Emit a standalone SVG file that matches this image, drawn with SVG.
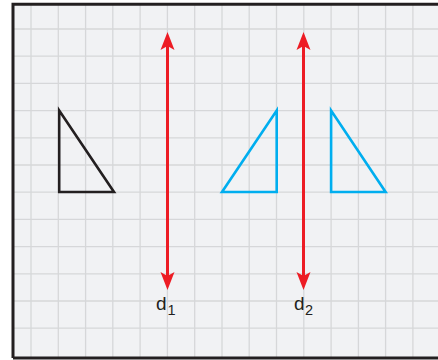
<svg xmlns="http://www.w3.org/2000/svg" width="438" height="360" viewBox="0 0 438 360">
<defs>
<style>
.grid line{stroke:#d6d7d9;stroke-width:1.3}
.axis{stroke:#ed1c24;stroke-width:3;fill:none}
.head{fill:#ed1c24}
.tri-black{fill:none;stroke:#231f20;stroke-width:2.6;stroke-linejoin:miter}
.tri-blue{fill:none;stroke:#00aeef;stroke-width:2.6;stroke-linejoin:miter}
.lbl{font-family:"Liberation Sans",Arial,sans-serif;font-size:19px;fill:#231f20}
.sub{font-size:14.5px}
</style>
<path id="ah" d="M0,0 L7,18 L0,14 L-7,18 Z"/>
</defs>
<rect x="0" y="0" width="438" height="360" fill="#ffffff"/>
<rect x="13" y="4.3" width="440" height="353.7" fill="#f1f2f4"/>
<g class="grid" id="grid">
<line x1="31" y1="5" x2="31" y2="357"/>
<line x1="58.3" y1="5" x2="58.3" y2="357"/>
<line x1="85.6" y1="5" x2="85.6" y2="357"/>
<line x1="112.8" y1="5" x2="112.8" y2="357"/>
<line x1="140.1" y1="5" x2="140.1" y2="357"/>
<line x1="167.4" y1="5" x2="167.4" y2="357"/>
<line x1="194.7" y1="5" x2="194.7" y2="357"/>
<line x1="222" y1="5" x2="222" y2="357"/>
<line x1="249.2" y1="5" x2="249.2" y2="357"/>
<line x1="276.5" y1="5" x2="276.5" y2="357"/>
<line x1="303.8" y1="5" x2="303.8" y2="357"/>
<line x1="331.1" y1="5" x2="331.1" y2="357"/>
<line x1="358.4" y1="5" x2="358.4" y2="357"/>
<line x1="385.6" y1="5" x2="385.6" y2="357"/>
<line x1="412.9" y1="5" x2="412.9" y2="357"/>
<line x1="13" y1="29" x2="438" y2="29"/>
<line x1="13" y1="56.2" x2="438" y2="56.2"/>
<line x1="13" y1="83.4" x2="438" y2="83.4"/>
<line x1="13" y1="110.6" x2="438" y2="110.6"/>
<line x1="13" y1="137.8" x2="438" y2="137.8"/>
<line x1="13" y1="165" x2="438" y2="165"/>
<line x1="13" y1="192.2" x2="438" y2="192.2"/>
<line x1="13" y1="219.4" x2="438" y2="219.4"/>
<line x1="13" y1="246.6" x2="438" y2="246.6"/>
<line x1="13" y1="273.8" x2="438" y2="273.8"/>
<line x1="13" y1="301" x2="438" y2="301"/>
<line x1="13" y1="328.2" x2="438" y2="328.2"/>
</g>
<path d="M13,358 V4.3 H438 M13,358 H438" fill="none" stroke="#231f20" stroke-width="3"/>
<g id="triangle-original">
<path class="tri-black" d="M59.2,110.5 L59.2,192 L114,192 Z"/>
</g>
<g id="triangle-image-left">
<path class="tri-blue" d="M276.7,110.5 L276.7,192 L222,192 Z"/>
</g>
<g id="triangle-image-right">
<path class="tri-blue" d="M331.1,110.5 L331.1,192 L385.6,192 Z"/>
</g>
<g id="connectors">
<g id="axis-d1">
<line class="axis" x1="167.5" y1="44" x2="167.5" y2="278"/>
<use href="#ah" class="head" transform="translate(167.5,32)"/>
<use href="#ah" class="head" transform="translate(167.5,290) rotate(180)"/>
</g>
<g id="axis-d2">
<line class="axis" x1="303.5" y1="44" x2="303.5" y2="278"/>
<use href="#ah" class="head" transform="translate(303.5,32)"/>
<use href="#ah" class="head" transform="translate(303.5,290) rotate(180)"/>
</g>
</g>
<g id="label-d1"><text class="lbl" x="156" y="309.5">d<tspan class="sub" dx="1" dy="5.5">1</tspan></text></g>
<g id="label-d2"><text class="lbl" x="294" y="309.5">d<tspan class="sub" dx="0.5" dy="5.5">2</tspan></text></g>
</svg>
